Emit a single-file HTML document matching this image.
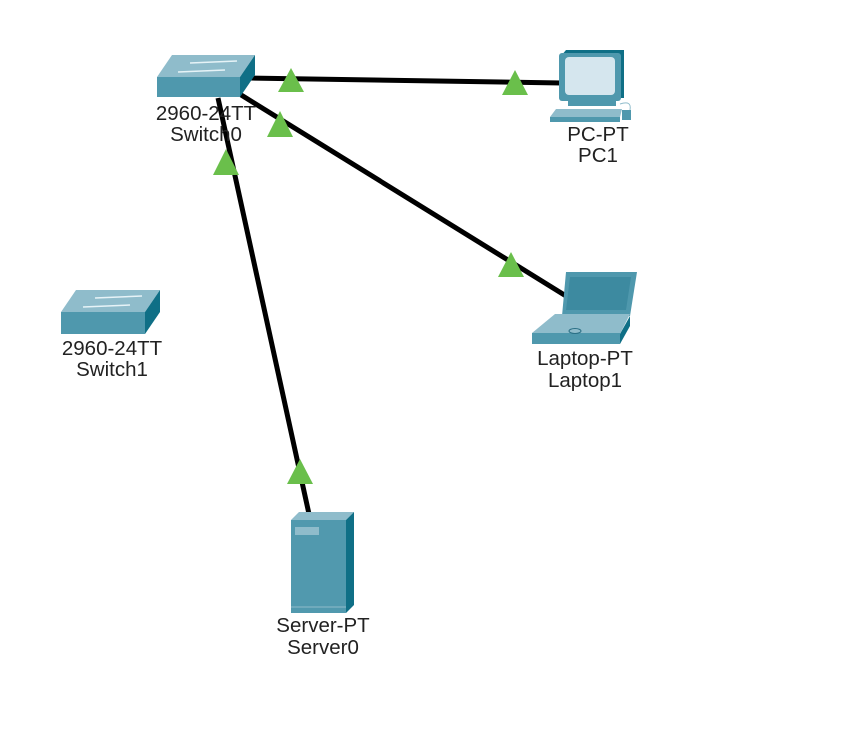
<!DOCTYPE html>
<html><head><style>
body{margin:0;background:#fff;}
svg{display:block;}
text{font-family:"Liberation Sans",sans-serif;font-size:20.5px;fill:#222;text-anchor:middle;}
</style></head><body>
<svg width="848" height="734" viewBox="0 0 848 734">
<g stroke="#000" stroke-width="5">
<line x1="250" y1="78" x2="562" y2="83"/>
<line x1="238" y1="93" x2="566" y2="296"/>
<line x1="218" y1="98" x2="309" y2="514"/>
</g>
<g fill="#6abf4b">
<polygon points="291,68 304,92 278,92"/>
<polygon points="515,70 528,95 502,95"/>
<polygon points="280,111 293,137 267,137"/>
<polygon points="226,149 239,175 213,175"/>
<polygon points="511,252 524,277 498,277"/>
<polygon points="300,459 313,484 287,484"/>
</g>
<g>
<polygon points="157,77 172,55 255,55 240,77" fill="#8fbccb"/>
<rect x="157" y="77" width="83" height="20" fill="#4f98ad"/>
<polygon points="240,77 255,55 255,75 240,97" fill="#0f6f86"/>
<g stroke="#e6f3f7" stroke-width="1.5"><line x1="190" y1="63" x2="237" y2="61"/><line x1="178" y1="72" x2="225" y2="70"/></g>
</g>
<text x="206" y="120">2960-24TT</text>
<text x="206" y="141">Switch0</text>
<g>
<polygon points="61,312 76,290 160,290 145,312" fill="#8fbccb"/>
<rect x="61" y="312" width="84" height="22" fill="#4f98ad"/>
<polygon points="145,312 160,290 160,312 145,334" fill="#0f6f86"/>
<g stroke="#e6f3f7" stroke-width="1.5"><line x1="95" y1="298" x2="142" y2="296"/><line x1="83" y1="307" x2="130" y2="305"/></g>
</g>
<text x="112" y="355">2960-24TT</text>
<text x="112" y="376">Switch1</text>
<g>
<polygon points="561,56 566,50 624,50 624,98 619,98" fill="#0f6f86"/>
<rect x="559" y="53" width="62" height="48" rx="3" fill="#4f98ad"/>
<rect x="565" y="57" width="50" height="38" rx="4" fill="#d5e6ee"/>
<rect x="568" y="100" width="48" height="6" fill="#4f98ad"/>
<polygon points="550,117 556,109 622,109 620,117" fill="#8fbccb"/>
<rect x="550" y="117" width="70" height="5" fill="#4f98ad"/>
<rect x="622" y="110" width="9" height="10" fill="#4f98ad"/>
<path d="M620 104 q12 -4 10 6" stroke="#8fbccb" fill="none"/>
</g>
<text x="598" y="141">PC-PT</text>
<text x="598" y="162">PC1</text>
<g>
<polygon points="566,272 637,272 630,316 562,316" fill="#4f98ad"/>
<polygon points="570,277 631,277 626,310 566,310" fill="#3d8aa0"/>
<polygon points="532,333 555,314 630,314 620,334" fill="#8fbccb"/>
<rect x="532" y="333" width="88" height="11" fill="#4f98ad"/>
<polygon points="620,334 630,316 630,326 620,344" fill="#0f6f86"/>
<ellipse cx="575" cy="331" rx="6" ry="2.5" fill="none" stroke="#2a6f85"/>
</g>
<text x="585" y="365">Laptop-PT</text>
<text x="585" y="387">Laptop1</text>
<g>
<polygon points="291,520 299,512 354,512 346,520" fill="#8fbccb"/>
<rect x="291" y="520" width="55" height="93" fill="#5199ae"/>
<polygon points="346,520 354,512 354,605 346,613" fill="#0f6f86"/>
<rect x="295" y="527" width="24" height="8" fill="#8fbccb"/>
<line x1="291" y1="607" x2="346" y2="607" stroke="#8fbccb"/>
</g>
<text x="323" y="632">Server-PT</text>
<text x="323" y="654">Server0</text>
</svg>
</body></html>
